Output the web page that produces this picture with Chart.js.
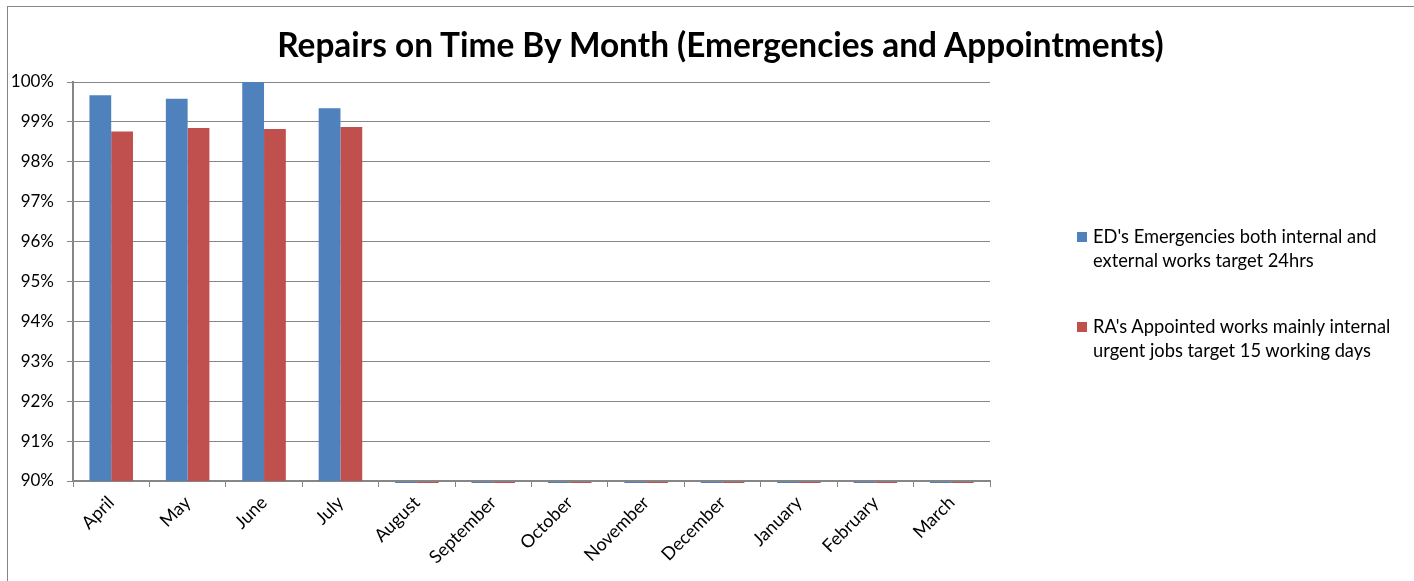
<!DOCTYPE html>
<html>
<head>
<meta charset="utf-8">
<script src="https://cdn.jsdelivr.net/npm/chart.js@4/dist/chart.umd.min.js"></script>
<style>
  html, body { margin: 0; padding: 0; background: #fff; overflow: hidden; }
  #frame { position: absolute; left: 7px; top: 6px; width: 1420px; height: 590px; border: 1px solid #868686; box-sizing: border-box; }
  #wrap { position: absolute; left: 0; top: 0; width: 1414px; height: 581px; }
  #title { position: absolute; left: 0; width: 1441px; top: 24px; text-align: center; font-family: Lato, "Open Sans", sans-serif; font-weight: bold; font-size: 33.4px; line-height: 40px; color: #000; white-space: nowrap; }
  #legend { position: absolute; left: 1077px; top: 224px; font-family: Lato, "Open Sans", sans-serif; font-size: 18.3px; color: #000; line-height: 24px; }
  .item { position: relative; padding-left: 16px; margin-bottom: 42px; white-space: nowrap; }
  .box { position: absolute; left: 0; top: 8px; width: 10px; height: 10px; }
</style>
</head>
<body>
<div id="frame"></div>
<div id="wrap"><canvas id="c" width="1414" height="581"></canvas></div>
<div id="title"></div>
<div id="legend"></div>
<script>
const title = "Repairs on Time By Month (Emergencies and Appointments)";
const months = ["April","May","June","July","August","September","October","November","December","January","February","March"];
const seriesNames = [
  ["ED's Emergencies both internal and", "external works target 24hrs"],
  ["RA's Appointed works mainly internal", "urgent jobs target 15 working days"]
];
const emergencies = [99.67, 99.58, 100.0, 99.34, 0, 0, 0, 0, 0, 0, 0, 0];
const appointed   = [98.76, 98.85, 98.82, 98.87, 0, 0, 0, 0, 0, 0, 0, 0];
const colors = ["#4F81BD", "#C0504D"];
const yMin = 90, yMax = 100;

document.getElementById('title').textContent = title;

// legend (HTML, real text)
const lg = document.getElementById('legend');
seriesNames.forEach((lines, i) => {
  const d = document.createElement('div');
  d.className = 'item';
  d.innerHTML = '<span class="box" style="background:' + colors[i] + '"></span>' + lines.join('<br>');
  lg.appendChild(d);
});

// Excel-like flat markers for bars whose values sit at/below the axis minimum
const baselineBars = {
  id: 'baselineBars',
  afterDatasetsDraw(chart) {
    const ctx = chart.ctx;
    const y = chart.scales.y.getPixelForValue(yMin);
    chart.data.datasets.forEach((ds, di) => {
      const meta = chart.getDatasetMeta(di);
      meta.data.forEach((el, i) => {
        if (ds.data[i] <= yMin) {
          ctx.save();
          ctx.strokeStyle = ds.backgroundColor;
          ctx.lineWidth = 1;
          ctx.beginPath();
          ctx.moveTo(el.x - el.width / 2, y + 1.5);
          ctx.lineTo(el.x + el.width / 2, y + 1.5);
          ctx.stroke();
          ctx.restore();
        }
      });
    });
  }
};

new Chart(document.getElementById('c'), {
  type: 'bar',
  data: {
    labels: months,
    datasets: [
      { label: seriesNames[0].join(' '), data: emergencies, backgroundColor: colors[0], borderWidth: 0 },
      { label: seriesNames[1].join(' '), data: appointed, backgroundColor: colors[1], borderWidth: 0 }
    ]
  },
  options: {
    responsive: false,
    animation: false,
    devicePixelRatio: 1,
    layout: { padding: { left: 0, right: 424, top: 82, bottom: 0 } },
    datasets: { bar: { categoryPercentage: 0.57, barPercentage: 1.0 } },
    plugins: {
      legend: { display: false },
      tooltip: { enabled: false },
      title: { display: false }
    },
    scales: {
      x: {
        afterFit(s) { s.height = 100; },
        grid: { display: true, drawOnChartArea: false, offset: true, tickLength: 6, color: '#868686', lineWidth: 1 },
        border: { display: true, color: '#868686', width: 2 },
        ticks: { color: '#000', minRotation: 45, maxRotation: 45, autoSkip: false, padding: 5,
                 font: { family: 'Lato, "Open Sans", sans-serif', size: 18 } }
      },
      y: {
        min: yMin, max: yMax,
        afterFit(s) { s.width = 73; },
        grid: { color: '#868686', lineWidth: 1, tickLength: 6 },
        border: { display: true, color: '#868686', width: 2 },
        ticks: { stepSize: 1, color: '#000', padding: 13,
                 font: { family: 'Lato, "Open Sans", sans-serif', size: 17 },
                 callback: v => v + '%' }
      }
    }
  },
  plugins: [baselineBars]
});
</script>
</body>
</html>
